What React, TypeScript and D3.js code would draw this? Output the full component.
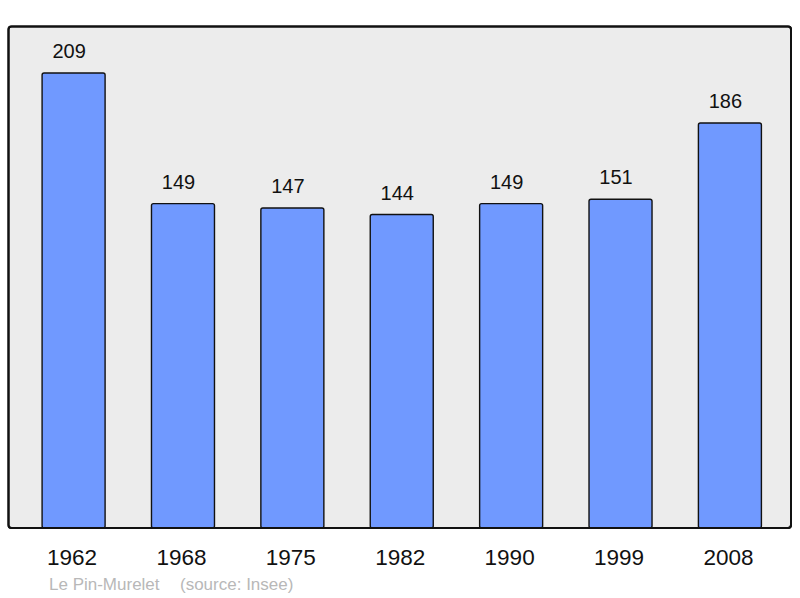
import React from "react";
import * as d3 from "d3";

const years = ["1962", "1968", "1975", "1982", "1990", "1999", "2008"];
const population = [209, 149, 147, 144, 149, 151, 186];
const commune = "Le Pin-Murelet";
const source = "(source: Insee)";

const W = 800;
const H = 598;
const panel = { x0: 8.5, y0: 26.5, x1: 791, y1: 528 };

export default function App() {
  const x = d3
    .scaleBand<string>()
    .domain(years)
    .range([panel.x0 + 10.4, panel.x1 - 6.4])
    .paddingInner(0.424)
    .paddingOuter(0.212);
  const y = d3.scaleLinear().domain([0, 209]).range([panel.y1, 73]);
  const font = "'Liberation Sans', Arial, sans-serif";

  return (
    <svg
      width={W}
      height={H}
      style={{ position: "absolute", left: 0, top: 0 }}
      fontFamily={font}
    >
      <rect
        x={panel.x0}
        y={panel.y0}
        width={panel.x1 - panel.x0}
        height={panel.y1 - panel.y0}
        rx={3}
        fill="#ececec"
        stroke="#111"
        strokeWidth={2}
      />
      {years.map((yr, i) => {
        const v = population[i];
        const bx = x(yr)!;
        const top = y(v);
        return (
          <g key={yr}>
            <rect
              x={bx}
              y={top}
              width={x.bandwidth()}
              height={panel.y1 - top}
              rx={2}
              fill="#7099ff"
              stroke="#111"
              strokeWidth={1.4}
            />
            <text
              x={bx + x.bandwidth() / 2 - 4.5}
              y={top - 15}
              textAnchor="middle"
              fontSize={20}
              fill="#111"
            >
              {v}
            </text>
            <text
              x={bx + x.bandwidth() / 2 - 1.5}
              y={564.5}
              textAnchor="middle"
              fontSize={22.5}
              fill="#111"
            >
              {yr}
            </text>
          </g>
        );
      })}
      <rect
        x={panel.x0}
        y={panel.y0}
        width={panel.x1 - panel.x0}
        height={panel.y1 - panel.y0}
        rx={3}
        fill="none"
        stroke="#111"
        strokeWidth={2}
      />
      <text x={49} y={590} fontSize={17} fill="#b8b8b8">
        {commune}
      </text>
      <text x={180} y={590} fontSize={17} fill="#b8b8b8">
        {source}
      </text>
    </svg>
  );
}
